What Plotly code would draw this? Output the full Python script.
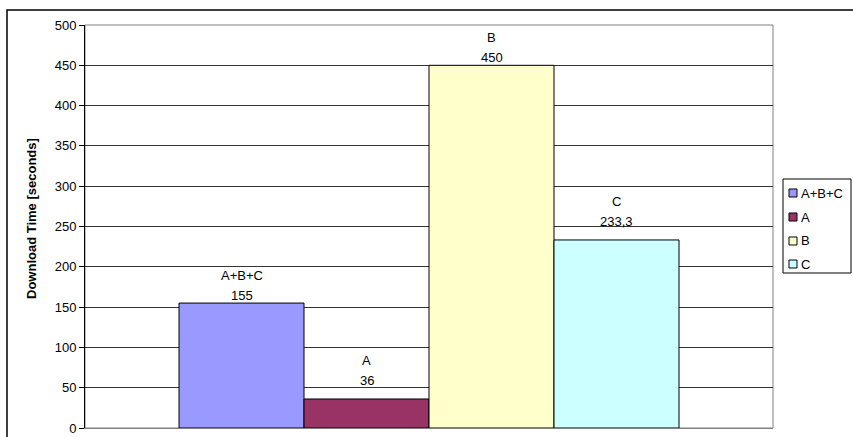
import plotly.graph_objects as go

series_names = ["A+B+C", "A", "B", "C"]
values = [155, 36, 450, 233.3]
value_labels = ["155", "36", "450", "233,3"]
colors = ["#9999FF", "#993366", "#FFFFCC", "#CCFFFF"]
y_ticks = [0, 50, 100, 150, 200, 250, 300, 350, 400, 450, 500]
y_title = "Download Time [seconds]"

W, H = 853, 437
L, R, T, B = 85, 80, 25, 9
PW, PH = W - L - R, H - T - B
FONT = "Liberation Sans, Arial"
label_lift = {"A": 11, "C": 11}  # extra label spacing (px) as in the original


def px(x):
    return (x - L) / PW


def py(y):
    return (H - B - y) / PH


fig = go.Figure()
annotations = [
    dict(x=px(31), y=py(219), xref="paper", yref="paper", text=f"<b>{y_title}</b>",
         textangle=-90, showarrow=False, xanchor="center", yanchor="middle",
         font=dict(size=13)),
]
shapes = [
    dict(type="rect", xref="paper", yref="paper", x0=0, x1=1, y0=0, y1=1,
         line=dict(color="#808080", width=1), layer="below"),
    dict(type="rect", xref="paper", yref="paper", x0=px(7), x1=px(900), y0=py(480), y1=py(10),
         line=dict(color="#000000", width=1.5)),
    # legend box
    dict(type="rect", xref="paper", yref="paper", x0=px(783), x1=px(851), y0=py(273), y1=py(179),
         line=dict(color="#000000", width=1), fillcolor="white"),
]
legend_y = [193, 217, 241, 264]

for i, (name, v, lab, c) in enumerate(zip(series_names, values, value_labels, colors)):
    fig.add_trace(go.Bar(
        x=[i], y=[v], name=name, width=1,
        marker=dict(color=c, line=dict(color="#000000", width=1)),
        showlegend=False,
    ))
    lift = label_lift.get(name, 0)
    annotations.append(dict(x=i, y=v, xref="x", yref="y", text=lab, showarrow=False,
                            yanchor="bottom", yshift=-2 + lift, font=dict(size=13)))
    annotations.append(dict(x=i, y=v, xref="x", yref="y", text=name, showarrow=False,
                            yanchor="bottom", yshift=18 + lift, font=dict(size=13)))
    # legend entry
    ly = legend_y[i]
    shapes.append(dict(type="rect", xref="paper", yref="paper",
                       x0=px(789), x1=px(797), y0=py(ly + 4), y1=py(ly - 4),
                       fillcolor=c, line=dict(color="#000000", width=1)))
    annotations.append(dict(x=px(799), y=py(ly), xref="paper", yref="paper", text=name,
                            showarrow=False, xanchor="left", yanchor="middle",
                            font=dict(size=13)))

span = PW / 125.0
pad = (span - 4) / 2
fig.update_layout(
    width=W, height=H,
    margin=dict(l=L, r=R, t=T, b=B, autoexpand=False),
    paper_bgcolor="white", plot_bgcolor="white",
    barmode="overlay",
    font=dict(family=FONT, size=13, color="#000000"),
    showlegend=False,
    xaxis=dict(range=[-0.5 - pad, 3.5 + pad], showticklabels=False, showgrid=False,
               zeroline=False, showline=True, linecolor="#808080", linewidth=1,
               ticks=""),
    yaxis=dict(range=[0, 500], tickvals=y_ticks, showgrid=True, gridcolor="#333333",
               gridwidth=1, zeroline=False, showline=True, linecolor="#000000",
               linewidth=1, ticks="outside", ticklen=5, tickcolor="#000000",
               tickfont=dict(size=13)),
    shapes=shapes,
    annotations=annotations,
)

fig.write_html("out.html")
